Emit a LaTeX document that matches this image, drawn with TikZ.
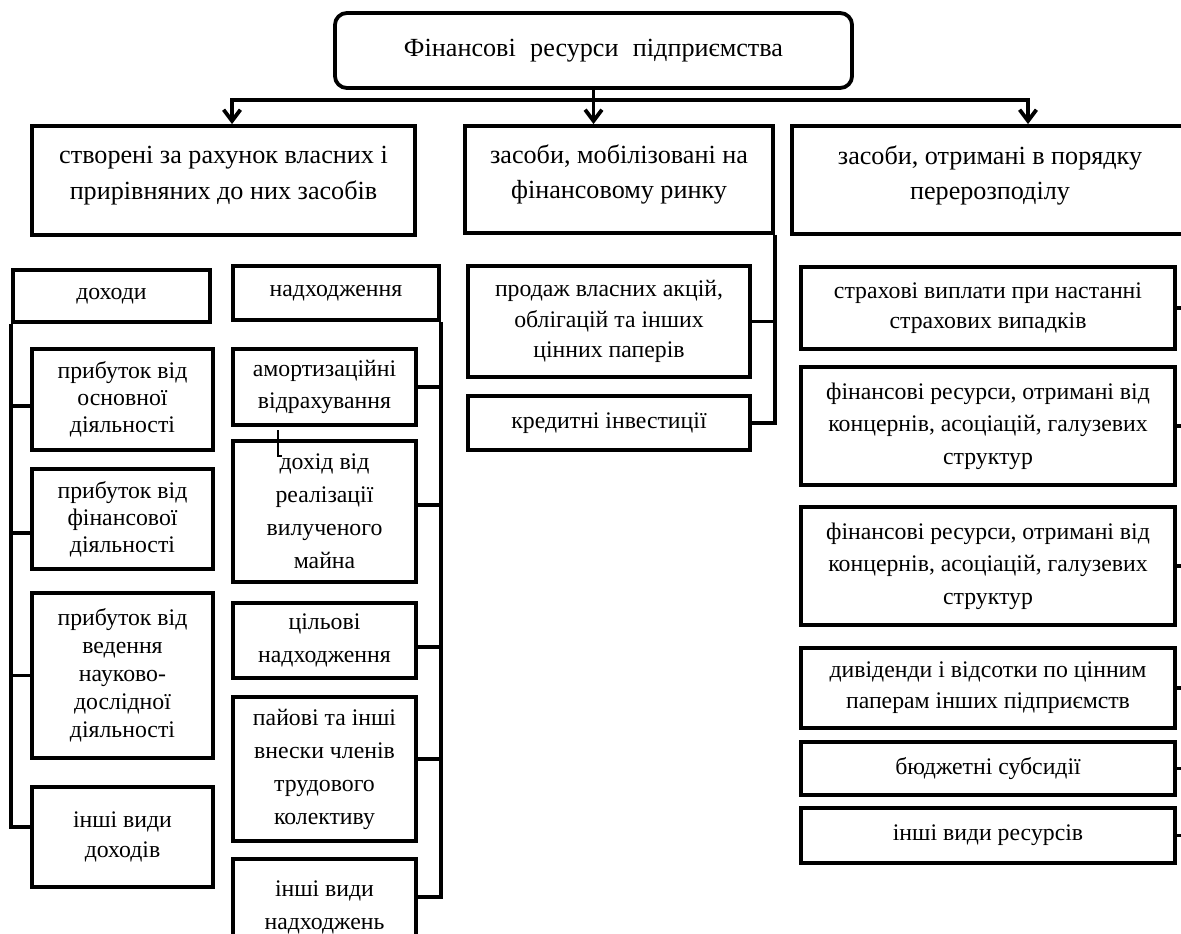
\documentclass[tikz,border=0pt]{standalone}
\usepackage{fontspec}
\setmainfont{Liberation Serif}
\usetikzlibrary{arrows.meta,positioning,calc}

\tikzset{
  box/.style={draw,line width=2.7pt,align=center,inner sep=0pt,
    font=\fontsize{16.9}{21.5}\selectfont},
  bigbox/.style={box,font=\fontsize{18.6}{25}\selectfont},
  link/.style={line width=2.7pt},
}

\begin{document}
\begin{tikzpicture}[x=0.025cm,y=-0.025cm,>={Straight Barb[length=0.28cm,width=0.42cm]}]
  \useasboundingbox (0,0) rectangle (1181,933);
  \clip (0,0) rectangle (1181,933);

  % top level
  \node[bigbox,rounded corners=0.3cm,minimum width=12.925cm,minimum height=1.875cm] (fin)
    at (593.5,50.5) {Фінансові\hspace{0.3em} ресурси\hspace{0.3em} підприємства};

  \node[bigbox,minimum width=9.575cm,minimum height=2.725cm] (own)
    at (223.5,180.5) {створені за рахунок власних і\\прирівняних до них засобів\\[-14pt]\mbox{}};
  \node[bigbox,minimum width=7.7cm,minimum height=2.675cm] (market)
    at (619,179.5) {засоби, мобілізовані на\\фінансовому ринку\\[-14pt]\mbox{}};
  \node[bigbox,minimum width=9.9cm,minimum height=2.7cm] (redistr)
    at (990,180) {засоби, отримані в порядку\\перерозподілу\\[-14pt]\mbox{}};

  \coordinate (busL) at (232,100);
  \coordinate (busR) at (1028,100);
  \draw[link,->] (fin.south) |- (busL) -- (own.north -| busL);
  \draw[link,->] (fin.south) |- (busR) -- (redistr.north -| busR);
  \draw[link,->] (fin.south) -- (market.north -| fin.south);

  % own funds: incomes
  \node[box,minimum width=4.925cm,minimum height=1.3cm] (dohody) at (111.5,296) {доходи};
  \node[box,minimum width=4.525cm,minimum height=2.525cm,font=\fontsize{16.9}{19.2}\selectfont] (prof1)
    at (122.5,399.5) {прибуток від\\основної\\діяльності};
  \node[box,minimum width=4.525cm,minimum height=2.5cm,font=\fontsize{16.9}{19.2}\selectfont] (prof2)
    at (122.5,519) {прибуток від\\фінансової\\діяльності};
  \node[box,minimum width=4.525cm,minimum height=4.125cm,font=\fontsize{16.9}{20}\selectfont] (prof3)
    at (122.5,675.5) {прибуток від\\ведення\\науково-\\дослідної\\діяльності};
  \node[box,minimum width=4.525cm,minimum height=2.5cm] (othinc) at (122.5,837) {інші види\\доходів};

  \draw[link] (dohody.south west) |- ([yshift=0.25cm]othinc.west);
  \draw[link] ([yshift=-0.16cm]prof1.west) -- ([yshift=-0.16cm]prof1.west -| dohody.west);
  \draw[link] ([yshift=-0.35cm]prof2.west) -- ([yshift=-0.35cm]prof2.west -| dohody.west);
  \draw[link] (prof3.west) -- (prof3.west -| dohody.west);

  % own funds: receipts
  \node[box,minimum width=5.15cm,minimum height=1.35cm] (nadh) at (336,293) {надходження};
  \node[box,minimum width=4.575cm,minimum height=1.9cm,font=\fontsize{16.9}{23}\selectfont] (amort)
    at (324.5,387) {амортизаційні\\відрахування};
  \node[box,minimum width=4.575cm,minimum height=3.525cm,font=\fontsize{16.9}{23.5}\selectfont] (sale)
    at (324.5,511.5) {дохід від\\реалізації\\вилученого\\майна};
  \node[box,minimum width=4.575cm,minimum height=1.875cm,font=\fontsize{16.9}{23.5}\selectfont] (target)
    at (324.5,640.5) {цільові\\надходження};
  \node[box,minimum width=4.575cm,minimum height=3.6cm,font=\fontsize{16.9}{23.5}\selectfont] (shares)
    at (324.5,769) {пайові та інші\\внески членів\\трудового\\колективу};
  \node[box,minimum width=4.575cm,minimum height=2.4cm,font=\fontsize{16.9}{23.5}\selectfont] (othrec)
    at (324.5,907) {інші види\\надходжень};

  \draw[link] (nadh.south east) |- ([yshift=0.25cm]othrec.east);
  \draw[link] (amort.east) -- (amort.east -| nadh.east);
  \draw[link] ([yshift=0.16cm]sale.east) -- ([yshift=0.16cm]sale.east -| nadh.east);
  \draw[link] ([yshift=-0.16cm]target.east) -- ([yshift=-0.16cm]target.east -| nadh.east);
  \draw[link] ([yshift=0.25cm]shares.east) -- ([yshift=0.25cm]shares.east -| nadh.east);
  \draw[line width=1.2pt] ([xshift=1.175cm,yshift=0.225cm]sale.north west) -- ++(0,26) -- ++(4,0);

  % financial market
  \node[box,minimum width=7.05cm,minimum height=2.775cm] (stocks)
    at (609,321.5) {продаж власних акцій,\\облігацій та інших\\цінних паперів};
  \node[box,minimum width=7.05cm,minimum height=1.35cm] (credit) at (609,423) {кредитні інвестиції};

  \draw[link] (market.south east) |- (credit.east);
  \draw[link] (stocks.east) -- (stocks.east -| market.east);

  % redistribution
  \node[box,minimum width=9.35cm,minimum height=2.05cm] (insur)
    at (988,308) {страхові виплати при настанні\\страхових випадків};
  \node[box,minimum width=9.35cm,minimum height=2.95cm,font=\fontsize{16.9}{23}\selectfont] (fin1)
    at (988,426) {фінансові ресурси, отримані від\\концернів, асоціацій, галузевих\\структур};
  \node[box,minimum width=9.35cm,minimum height=2.95cm,font=\fontsize{16.9}{23}\selectfont] (fin2)
    at (988,566) {фінансові ресурси, отримані від\\концернів, асоціацій, галузевих\\структур};
  \node[box,minimum width=9.35cm,minimum height=2cm,font=\fontsize{16.9}{22}\selectfont] (divid)
    at (988,688) {дивіденди і відсотки по цінним\\паперам інших підприємств};
  \node[box,minimum width=9.35cm,minimum height=1.325cm] (budget) at (988,768.5) {бюджетні субсидії};
  \node[box,minimum width=9.35cm,minimum height=1.375cm] (othres) at (988,835.5) {інші види ресурсів};

  \draw[link] (redistr.south east) |- (othres.east);
  \foreach \b in {insur,fin1,fin2,divid,budget}
    \draw[link] (\b.east) -- (\b.east -| redistr.east);
\end{tikzpicture}
\end{document}
